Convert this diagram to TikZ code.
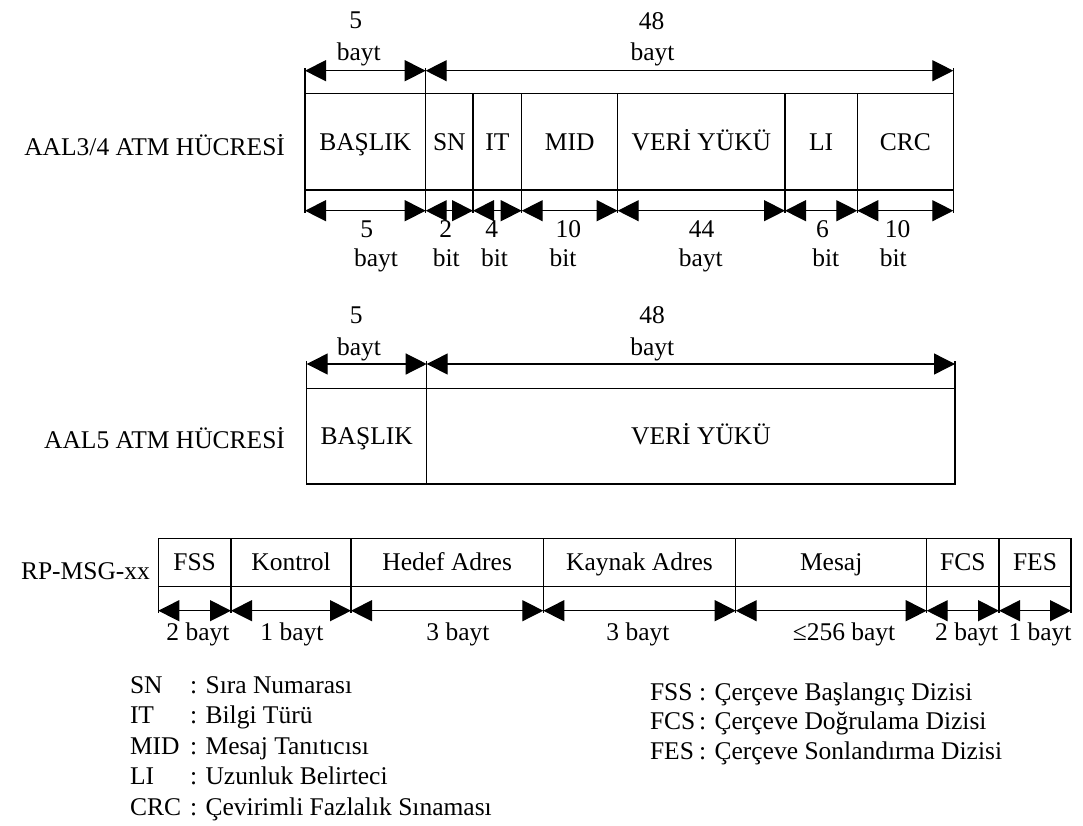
\documentclass[tikz,border=0pt]{standalone}
\usepackage{fontspec}
\setmainfont{Liberation Serif}
\usetikzlibrary{arrows.meta}

% a field of a cell/frame layout: name, x-left, x-right, y-top, y-bottom, text
\newcommand\cellfield[6]{%
  \node[field, minimum width={#3-#2}, minimum height={#5-#4}] (#1)
    at ({(#2+#3)/2},{(#4+#5)/2}) {#6};}

\begin{document}
\begin{tikzpicture}[x=1pt,y=-1pt,
  every node/.style={font=\fontsize{25.5}{30}\selectfont, inner sep=0pt, outer sep=0pt},
  field/.style={draw, line width=1.5pt, text height=16.7pt, text depth=0pt},
  dim/.style={line width=1.3pt, {Triangle[length=21pt,width=21pt]}-{Triangle[length=21pt,width=21pt]}},
  ext/.style={line width=1.3pt},
  lbl/.style={anchor=base},
  ]
\useasboundingbox (0,0) rectangle (1083,825);

% ---------------- AAL3/4 cell ----------------
\cellfield{a1}{305}{425.7}{93.3}{190}{BAŞLIK}
\cellfield{a2}{425.7}{473}{93.3}{190}{SN}
\cellfield{a3}{473}{521.7}{93.3}{190}{IT}
\cellfield{a4}{521.7}{617.7}{93.3}{190}{MID}
\cellfield{a5}{617.7}{785}{93.3}{190}{VERİ YÜKÜ}
\cellfield{a6}{785}{857.3}{93.3}{190}{LI}
\cellfield{a7}{857.3}{953.3}{93.3}{190}{CRC}
\node[anchor=base east] (t1) at (285,155) {AAL3/4 ATM HÜCRESİ};

\coordinate (u1) at (0,68);      % top of upper extension lines
\coordinate (ua) at (0,70.7);    % upper dimension line
\coordinate (l1) at (0,212.6);   % foot of lower extension lines
\coordinate (la) at (0,210.7);   % lower dimension line

\foreach \f/\c in {a1/north west, a1/north east, a7/north east}
  \draw[ext] (\f.\c) -- (\f.\c |- u1);
\draw[dim] (a1.north west |- ua) -- (a1.north east |- ua);
\draw[dim] (a2.north west |- ua) -- (a7.north east |- ua);

\draw[ext] (a1.south west) -- (a1.south west |- l1);
\foreach \f in {a1,a2,a3,a4,a5,a6,a7}{
  \draw[ext] (\f.south east) -- (\f.south east |- l1);
  \draw[dim] (\f.south west |- la) -- (\f.south east |- la);
}

\node[lbl] (n1) at (355.8,28.3) {5};
\node[lbl] (n2) at (358.7,60) {bayt};
\node[lbl] (n3) at (651.7,29) {48};
\node[lbl] (n4) at (652.5,60) {bayt};

\node[lbl] (m1) at (366.7,237.5) {5};
\node[lbl] (m2) at (376,266.7) {bayt};
\node[lbl] (m3) at (445.8,237.5) {2};
\node[lbl] (m4) at (446.3,266.7) {bit};
\node[lbl] (m5) at (491.7,237.5) {4};
\node[lbl] (m6) at (494.5,266.7) {bit};
\node[lbl] (m7) at (568.3,237.5) {10};
\node[lbl] (m8) at (563,266.7) {bit};
\node[lbl] (m9) at (701.7,237.5) {44};
\node[lbl] (m10) at (700.8,266.7) {bayt};
\node[lbl] (m11) at (822.5,237.5) {6};
\node[lbl] (m12) at (825.7,266.7) {bit};
\node[lbl] (m13) at (897.5,237.5) {10};
\node[lbl] (m14) at (893.3,266.7) {bit};

% ---------------- AAL5 cell ----------------
\cellfield{b1}{306.7}{426.7}{388.3}{484}{BAŞLIK}
\cellfield{b2}{426.7}{955}{388.3}{484}{}
\node[lbl] (b2t) at (701,444.5) {VERİ YÜKÜ};
\node[anchor=base east] (t2) at (285,448) {AAL5 ATM HÜCRESİ};

\coordinate (u2) at (0,361);
\coordinate (ub) at (0,364);
\foreach \f/\c in {b1/north west, b1/north east, b2/north east}
  \draw[ext] (\f.\c) -- (\f.\c |- u2);
\draw[dim] (b1.north west |- ub) -- (b1.north east |- ub);
\draw[dim] (b2.north west |- ub) -- (b2.north east |- ub);

\node[lbl] (p1) at (356.3,323.3) {5};
\node[lbl] (p2) at (359,355) {bayt};
\node[lbl] (p3) at (652.2,323.3) {48};
\node[lbl] (p4) at (652.2,355) {bayt};

% ---------------- RP-MSG-xx frame ----------------
\cellfield{c1}{158.3}{231}{538.3}{586.7}{FSS}
\cellfield{c2}{231}{351}{538.3}{586.7}{Kontrol}
\cellfield{c3}{351}{543.3}{538.3}{586.7}{Hedef Adres}
\cellfield{c4}{543.3}{735.7}{538.3}{586.7}{Kaynak Adres}
\cellfield{c5}{735.7}{926.7}{538.3}{586.7}{Mesaj}
\cellfield{c6}{926.7}{999}{538.3}{586.7}{FCS}
\cellfield{c7}{999}{1071}{538.3}{586.7}{FES}
\node[anchor=base east] (t3) at (150,579.3) {RP-MSG-xx};

\coordinate (l3) at (0,612.5);
\coordinate (lc) at (0,610.7);
\draw[ext] (c1.south west) -- (c1.south west |- l3);
\foreach \f in {c1,c2,c3,c4,c5,c6,c7}{
  \draw[ext] (\f.south east) -- (\f.south east |- l3);
  \draw[dim] (\f.south west |- lc) -- (\f.south east |- lc);
}

\node[lbl] (q1) at (198,640) {2 bayt};
\node[lbl] (q2) at (292,640) {1 bayt};
\node[lbl] (q3) at (458,640) {3 bayt};
\node[lbl] (q4) at (638,640) {3 bayt};
\node[lbl] (q5) at (844,640) {≤256 bayt};
\node[lbl] (q6) at (966.7,640) {2 bayt};
\node[lbl] (q7) at (1040,640) {1 bayt};

% ---------------- abbreviations ----------------
\foreach \k/\a/\d/\y in {1/SN/Sıra Numarası/693, 2/IT/Bilgi Türü/723.5,
    3/MID/Mesaj Tanıtıcısı/754, 4/LI/Uzunluk Belirteci/784.5,
    5/CRC/Çevirimli Fazlalık Sınaması/815}{
  \node[anchor=base west] (ka\k) at (130,\y) {\a};
  \node[anchor=base west] (kd\k) at (190,\y) {: \d};
}
\foreach \k/\a/\d/\y in {1/FSS/Çerçeve Başlangıç Dizisi/700,
    2/FCS/Çerçeve Doğrulama Dizisi/729.7, 3/FES/Çerçeve Sonlandırma Dizisi/759.4}{
  \node[anchor=base west] (ra\k) at (650,\y) {\a};
  \node[anchor=base west] (rd\k) at (699,\y) {: \d};
}
\end{tikzpicture}
\end{document}
